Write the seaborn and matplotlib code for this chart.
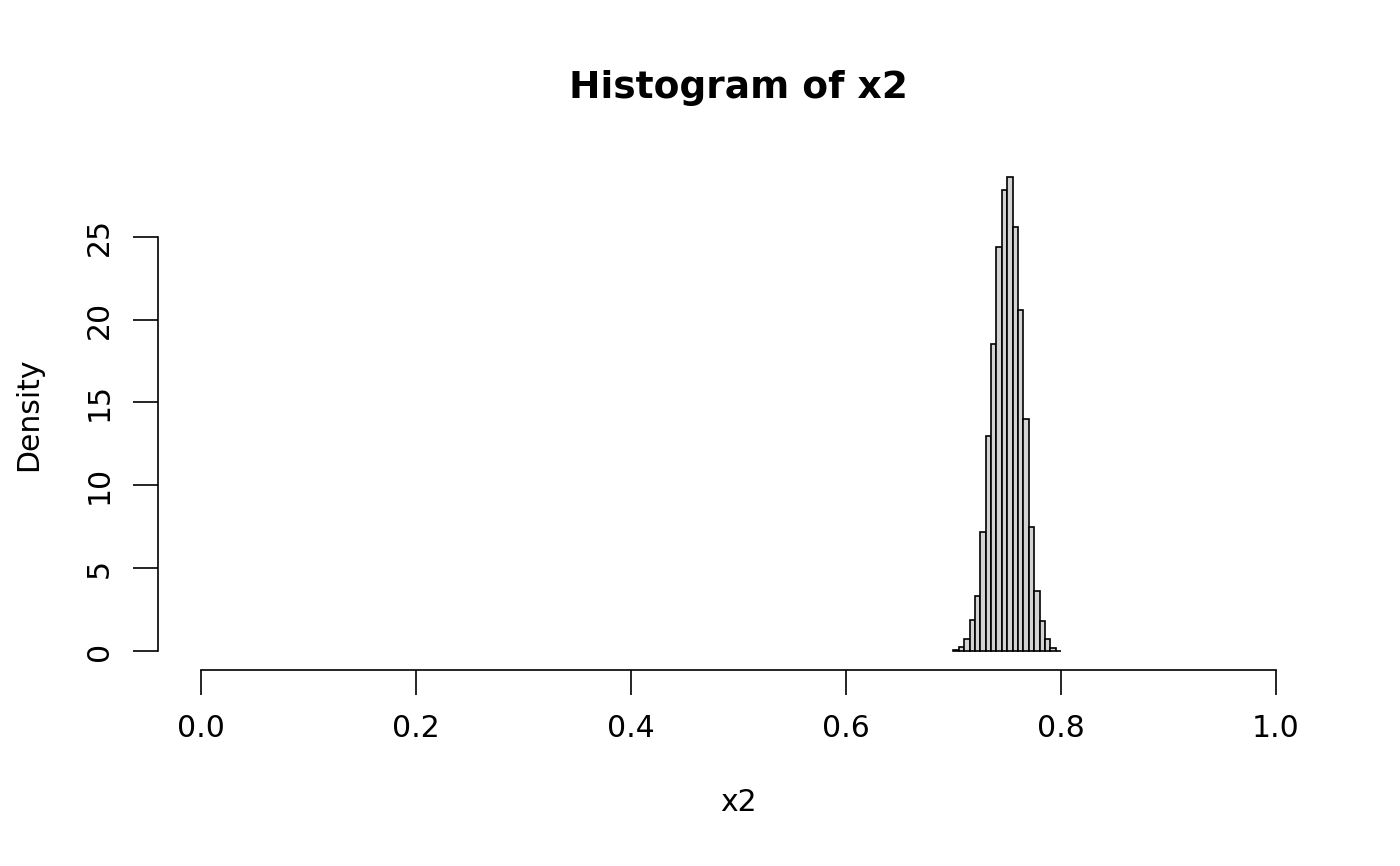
import numpy as np
import pandas as pd
import matplotlib
matplotlib.use("Agg")
import matplotlib.pyplot as plt
import seaborn as sns

bin_left = [0.700, 0.705, 0.710, 0.715, 0.720, 0.725, 0.730, 0.735, 0.740, 0.745,
            0.750, 0.755, 0.760, 0.765, 0.770, 0.775, 0.780, 0.785, 0.790, 0.795]
density = [0.05, 0.25, 0.75, 1.9, 3.3, 7.2, 13.0, 18.5, 24.4, 27.8,
           28.6, 25.6, 20.6, 14.0, 7.5, 3.6, 1.8, 0.7, 0.2, 0.02]
bin_width = 0.005
x_ticks = [0.0, 0.2, 0.4, 0.6, 0.8, 1.0]
y_ticks = [0, 5, 10, 15, 20, 25]

sns.set_style("white")
plt.rcParams['font.family'] = ['DejaVu Sans']
plt.rcParams['text.color'] = 'black'
plt.rcParams['axes.labelcolor'] = 'black'
plt.rcParams['xtick.color'] = 'black'
plt.rcParams['ytick.color'] = 'black'

df = pd.DataFrame({"x2": np.array(bin_left) + bin_width / 2, "w": density})
edges = list(bin_left) + [bin_left[-1] + bin_width]

fig = plt.figure(figsize=(14, 8.66), dpi=100)
ax = fig.add_axes([158 / 1400, 1 - 670 / 866, (1319 - 158) / 1400, (670 - 158) / 866])
sns.histplot(data=df, x="x2", weights="w", bins=edges, stat="count",
             color="#D3D3D3", edgecolor="black", linewidth=1.2, alpha=1, ax=ax)
ymax = max(density)
ax.set_xlim(-0.04, 1.04)
ax.set_ylim(-0.04 * ymax, ymax * 1.04)
for s in ["top", "right"]:
    ax.spines[s].set_visible(False)
ax.spines["left"].set_bounds(0, 25)
ax.spines["bottom"].set_bounds(0, 1)
for s in ["left", "bottom"]:
    ax.spines[s].set_color("black")
    ax.spines[s].set_linewidth(1.2)
ax.set_xticks(x_ticks)
ax.set_xticklabels([f"{v:.1f}" for v in x_ticks])
ax.set_yticks(y_ticks)
ax.set_yticklabels([str(v) for v in y_ticks], rotation=90, va="center")
ax.tick_params(axis="both", direction="out", length=18, width=1.2, color="black",
               labelsize=21.5, labelcolor="black", bottom=True, left=True)
ax.tick_params(axis="x", pad=14)
ax.tick_params(axis="y", pad=14)
ax.set_xlabel("x2", fontsize=21.5, labelpad=32)
ax.set_ylabel("Density", fontsize=21.5, labelpad=30)
ax.set_title("Histogram of x2", fontsize=27, fontweight="bold", pad=43)
fig.savefig("out.png", dpi=100)
